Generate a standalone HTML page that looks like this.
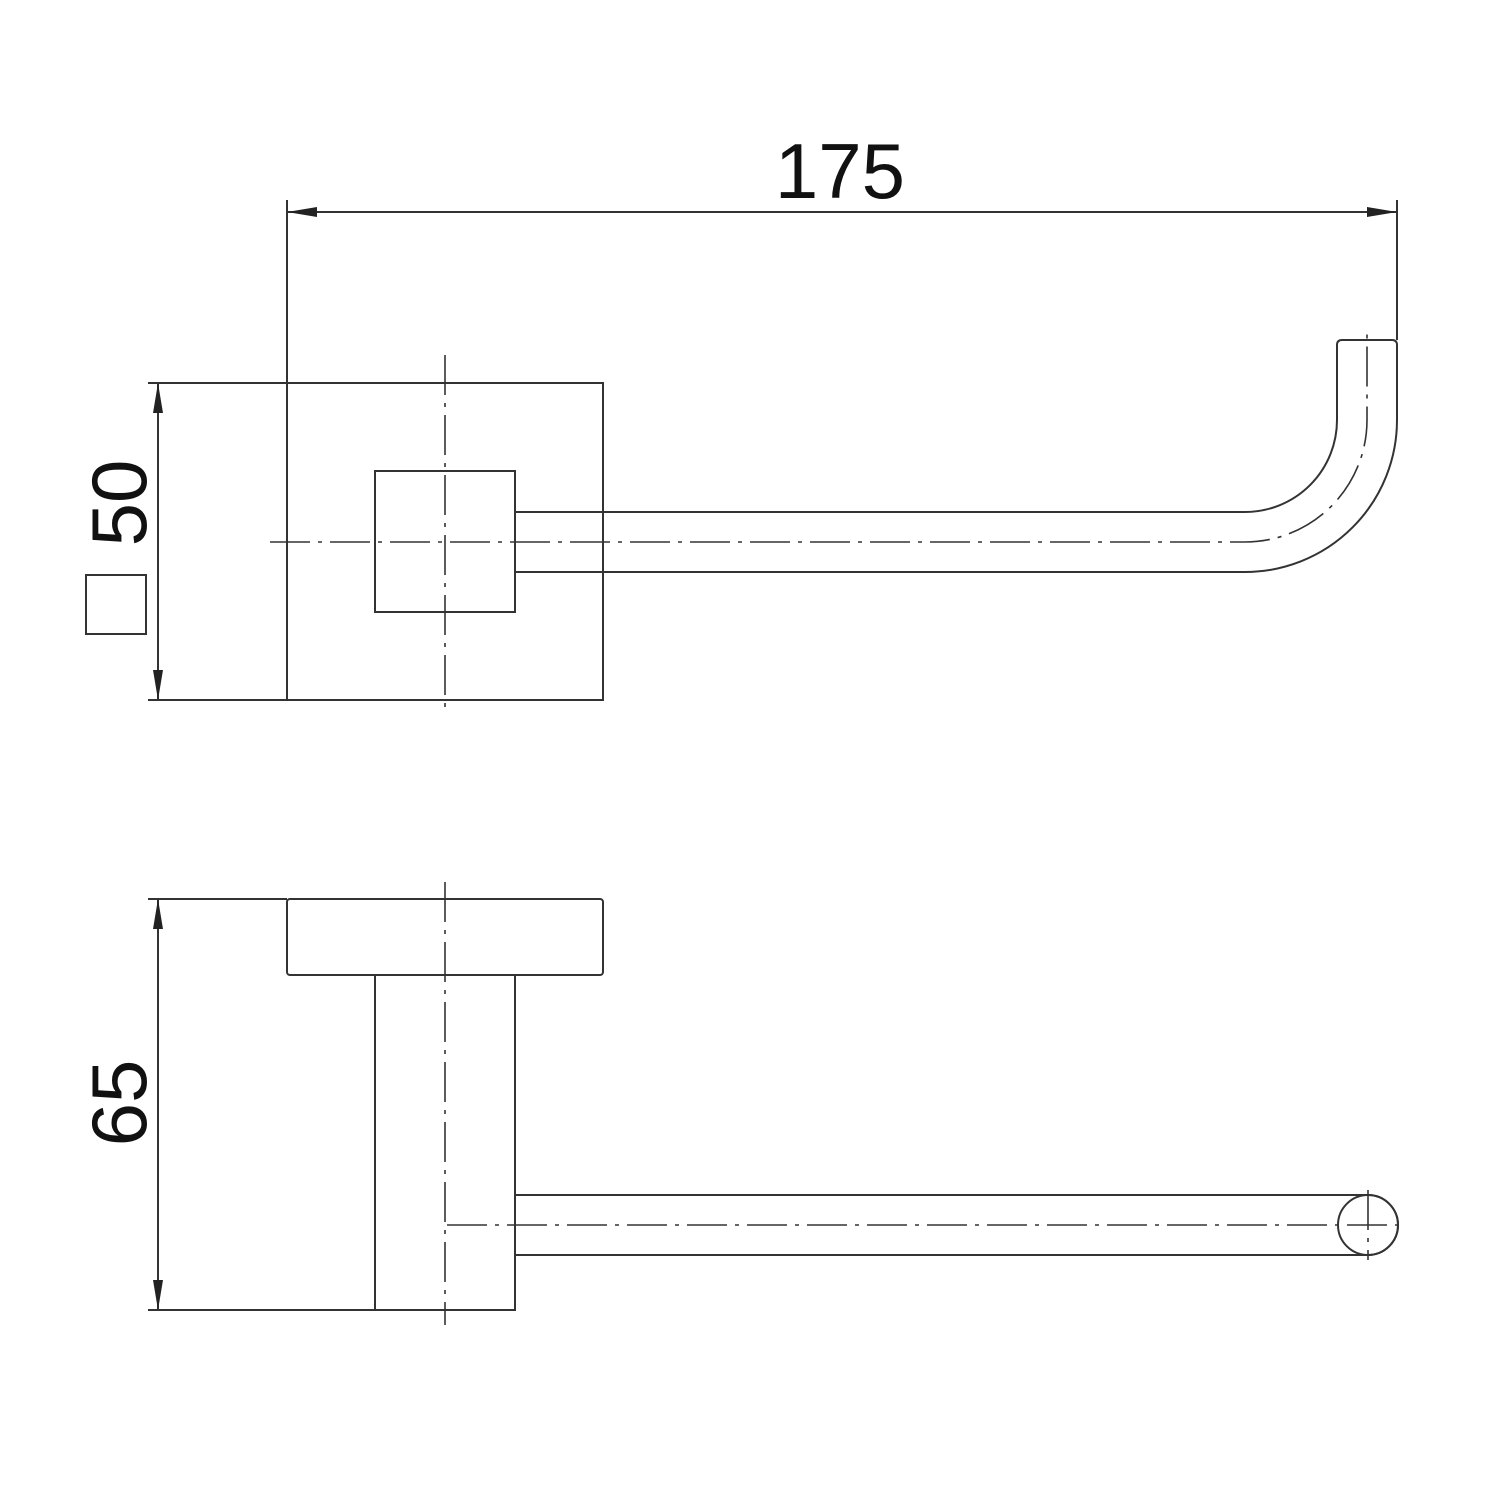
<!DOCTYPE html>
<html><head><style>body{margin:0;background:#fff}</style></head><body>
<svg width="1500" height="1500" viewBox="0 0 1500 1500" xmlns="http://www.w3.org/2000/svg">
<defs>
<marker id="a" viewBox="0 0 30 10" refX="30" refY="5" markerWidth="30" markerHeight="10" markerUnits="userSpaceOnUse" orient="auto-start-reverse"><path d="M0,0L30,5L0,10Z" fill="#222"/></marker>
</defs>
<g fill="none" stroke="#333" stroke-width="2">
<line x1="287" y1="200" x2="287" y2="383"/>
<line x1="1397" y1="200" x2="1397" y2="340"/>
<line x1="287" y1="212" x2="1397" y2="212" marker-start="url(#a)" marker-end="url(#a)"/>
<line x1="148" y1="383" x2="287" y2="383"/>
<line x1="148" y1="700" x2="287" y2="700"/>
<line x1="158" y1="383" x2="158" y2="700" marker-start="url(#a)" marker-end="url(#a)"/>
<rect x="86" y="575" width="60" height="59"/>
<rect x="287" y="383" width="316" height="317"/>
<rect x="375" y="471" width="140" height="141"/>
<path d="M515,512H1245A92,92 0 0 0 1337,420V345Q1337,340 1342,340H1392Q1397,340 1397,345V420A152,152 0 0 1 1245,572H515"/>
<g stroke-dasharray="40,8,4,8" stroke-width="1.6">
<path d="M270,542H1245A122,122 0 0 0 1367,420V330"/>
<line x1="445" y1="355" x2="445" y2="715"/>
</g>
<line x1="148" y1="899" x2="287" y2="899"/>
<line x1="148" y1="1310" x2="375" y2="1310"/>
<line x1="158" y1="899" x2="158" y2="1310" marker-start="url(#a)" marker-end="url(#a)"/>
<rect x="287" y="899" width="316" height="76" rx="3"/>
<rect x="375" y="975" width="140" height="335"/>
<path d="M515,1195H1368A30,30 0 0 1 1368,1255H515"/>
<circle cx="1368" cy="1225" r="30"/>
<g stroke-dasharray="40,8,4,8" stroke-width="1.6">
<line x1="447" y1="1225" x2="1402" y2="1225"/>
<line x1="445" y1="882" x2="445" y2="1325"/>
<line x1="1368" y1="1190" x2="1368" y2="1260"/>
</g>
</g>
<g font-family="Liberation Sans, sans-serif" font-size="78" fill="#111" text-anchor="middle">
<text x="840" y="198">175</text>
<text transform="translate(146,503) rotate(-90)">50</text>
<text transform="translate(146,1103) rotate(-90)">65</text>
</g>
</svg>
</body></html>
